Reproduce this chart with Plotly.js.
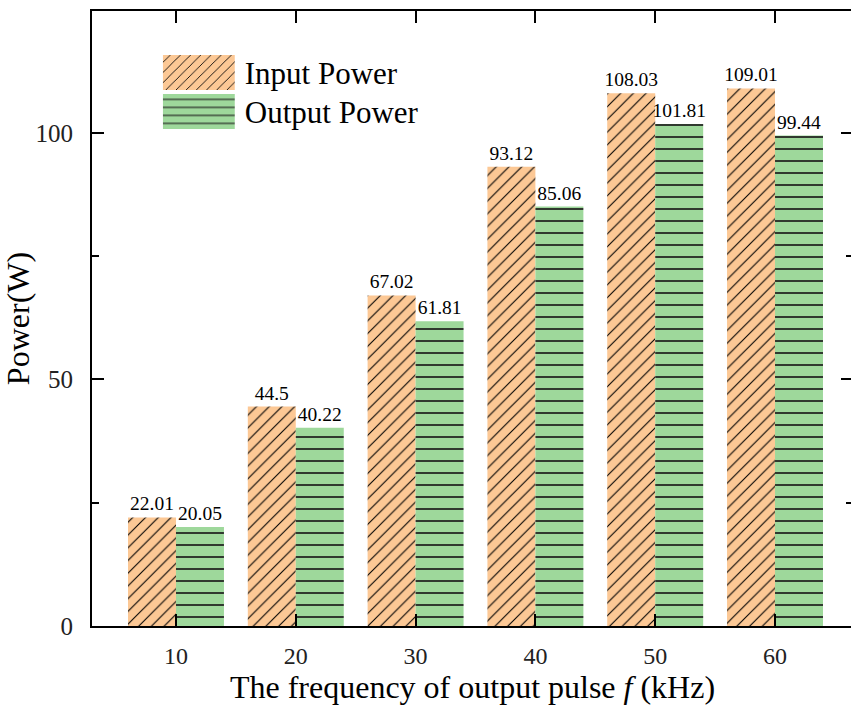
<!DOCTYPE html>
<html>
<head>
<meta charset="utf-8">
<script src="https://cdn.plot.ly/plotly-3.0.1.min.js"></script>
<style>
html,body{margin:0;padding:0;overflow:hidden;background:#fff;}
#chart{width:853px;height:706px;}
</style>
</head>
<body>
<div id="chart"></div>
<script>
// ---- data ----
const categories = ['10', '20', '30', '40', '50', '60'];
const inputPower = [22.01, 44.5, 67.02, 93.12, 108.03, 109.01];
const outputPower = [20.05, 40.22, 61.81, 85.06, 101.81, 99.44];
const inputLabels = ['22.01', '44.5', '67.02', '93.12', '108.03', '109.01'];
const outputLabels = ['20.05', '40.22', '61.81', '85.06', '101.81', '99.44'];
const seriesNames = ['Input Power', 'Output Power'];
const yTickVals = [0, 50, 100];

const serif = 'Liberation Serif, Times New Roman, serif';

const traces = [
  {
    type: 'bar', name: seriesNames[0], x: categories, y: inputPower,
    text: inputLabels, textposition: 'outside', cliponaxis: false, constraintext: 'none',
    textfont: {family: serif, size: 19.5, color: '#000'},
    marker: {color: '#FCC895', line: {width: 0},
      pattern: {shape: '/', fgcolor: '#000', bgcolor: '#FCC895', size: 9, solidity: 0.12, fillmode: 'replace'}},
    hoverinfo: 'skip'
  },
  {
    type: 'bar', name: seriesNames[1], x: categories, y: outputPower,
    text: outputLabels, textposition: 'outside', cliponaxis: false, constraintext: 'none',
    textfont: {family: serif, size: 19.5, color: '#000'},
    marker: {color: '#9ED89B', line: {width: 0},
      pattern: {shape: '-', fgcolor: '#1a1a1a', bgcolor: '#9ED89B', size: 12, solidity: 0.14, fillmode: 'replace'}},
    hoverinfo: 'skip'
  }
];

const layout = {
  width: 853, height: 706,
  margin: {l: 92, r: 0, t: 11, b: 80, pad: 0},
  paper_bgcolor: '#fff', plot_bgcolor: '#fff',
  barmode: 'group', bargap: 0.199, bargroupgap: 0,
  font: {family: serif, color: '#000'},
  xaxis: {
    type: 'category', range: [-0.701, 5.651],
    showline: true, linewidth: 2, linecolor: '#000', mirror: 'ticks',
    ticks: 'inside', ticklen: 12, tickwidth: 2, tickcolor: '#000',
    ticklabelstandoff: 7,
    tickfont: {family: serif, size: 24, color: '#222'},
    showgrid: false, zeroline: false,
    title: {text: 'The frequency of output pulse <i>f</i> (kHz)', font: {family: serif, size: 32, color: '#000'}, standoff: 4}
  },
  yaxis: {
    range: [0, 124.7], tickvals: yTickVals,
    showline: true, linewidth: 2, linecolor: '#000', mirror: 'ticks',
    ticks: 'inside', ticklen: 12, tickwidth: 2, tickcolor: '#000',
    minor: {dtick: 25, tick0: 0, ticks: 'inside', ticklen: 7, tickwidth: 2, tickcolor: '#000', showgrid: false},
    ticklabelstandoff: 12,
    tickfont: {family: serif, size: 25, color: '#222'},
    showgrid: false, zeroline: false,
    title: {text: 'Power(W)', font: {family: serif, size: 32, color: '#000'}, standoff: 1}
  },
  showlegend: true,
  legend: {
    x: 0.093, y: 0.9435, xanchor: 'left', yanchor: 'top',
    bgcolor: 'rgba(0,0,0,0)', borderwidth: 0,
    font: {family: serif, size: 31, color: '#000'},
    itemwidth: 72, traceorder: 'normal'
  }
};

function fixLegend(gd) {
  gd.querySelectorAll('.legend .legendpoints path').forEach(function (p) {
    p.setAttribute('d', 'M31,17.5H-41V-17.5H31Z');
  });
  var items = gd.querySelectorAll('.legend .traces');
  if (items.length > 1) {
    var re = /translate\(\s*([-\d.e]+)[ ,]+([-\d.e]+)\s*\)/;
    var m0 = (items[0].getAttribute('transform') || '').match(re);
    var m1 = (items[1].getAttribute('transform') || '').match(re);
    if (m0 && m1) {
      items[1].setAttribute('transform', 'translate(' + m1[1] + ',' + (parseFloat(m0[2]) + 39) + ')');
    }
  }
}

Plotly.newPlot('chart', traces, layout, {staticPlot: true}).then(function (gd) {
  fixLegend(gd);
  setTimeout(function () { fixLegend(gd); }, 50);
  setTimeout(function () { fixLegend(gd); }, 300);
});
</script>
</body>
</html>
